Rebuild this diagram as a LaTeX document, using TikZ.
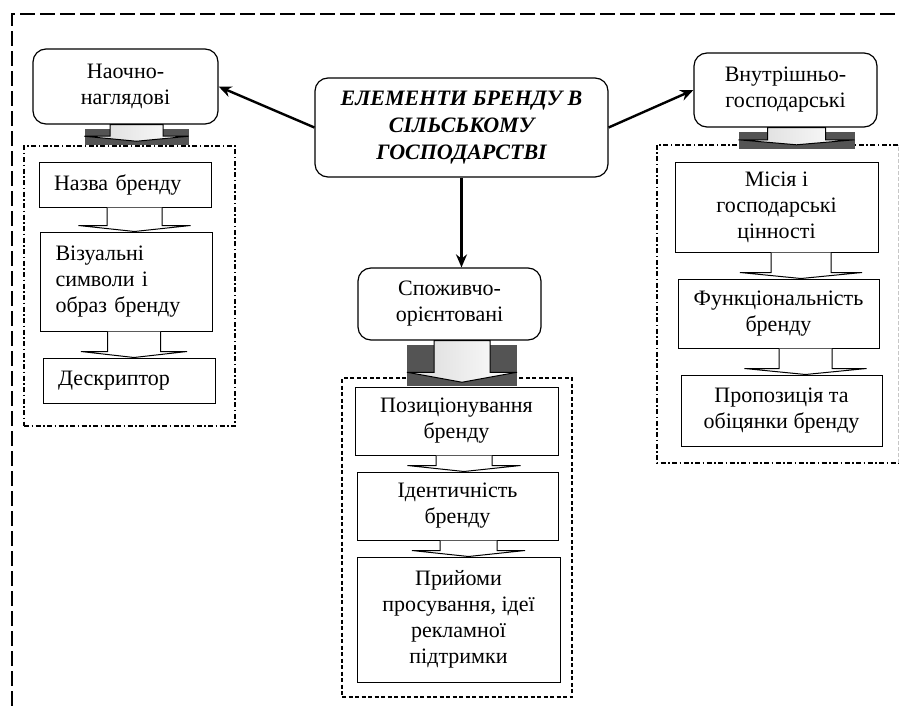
\documentclass[tikz,border=0pt]{standalone}
\usepackage{fontspec}
\setmainfont{Liberation Serif}
\usetikzlibrary{arrows.meta,calc,shadings}

\definecolor{slab}{HTML}{545454}

\tikzset{
  txt/.style={font=\fontsize{22}{26}\selectfont},
  headbox/.style={draw, rounded corners=13pt, line width=1.2pt, align=center, txt, inner sep=2pt},
  itembox/.style={draw, line width=1pt, align=center, txt, inner sep=2pt},
  leftbox/.style={draw, line width=1pt, align=left, txt, inner xsep=15pt, text width=142pt},
  dotframe/.style={line width=1.5pt, dash pattern=on 5pt off 2.5pt on 1.5pt off 2.5pt},
  link/.style={line width=2.4pt, -{Stealth[length=13pt,width=11pt]}}
}

% big gray arrow: from, to, dx, half width, shaft half width, drop, head depth
\newcommand{\bigarrow}[7]{%
  \fill[slab] let \p1=(#1.south), \p2=(#2.north) in
    ({\x1+#3pt-#4pt},{\y1-4pt}) rectangle ({\x1+#3pt+#4pt},{\y2-(#6pt)-4pt});
  \draw[line width=1pt, left color=gray!30, right color=white] let \p1=(#1.south), \p2=(#2.north) in
    ({\x1+#3pt-#5pt},\y1) -- ({\x1+#3pt-#5pt},{\y2-(#6pt)+#7pt}) -- ({\x1+#3pt-#4pt},{\y2-(#6pt)+#7pt})
    -- ({\x1+#3pt},{\y2-(#6pt)}) -- ({\x1+#3pt+#4pt},{\y2-(#6pt)+#7pt}) -- ({\x1+#3pt+#5pt},{\y2-(#6pt)+#7pt})
    -- ({\x1+#3pt+#5pt},\y1) -- cycle;}

% small white arrow: from, to, dx, shaft half width, head half width
\newcommand{\steparrow}[5]{%
  \draw[line width=1pt, fill=white] let \p1=(#1.south), \p2=(#2.north) in
    ({\x1+#3pt-#4pt},\y1) -- ({\x1+#3pt-#4pt},{\y2+6pt}) -- ({\x1+#3pt-#5pt},{\y2+6pt}) -- ({\x1+#3pt},\y2)
    -- ({\x1+#3pt+#5pt},{\y2+6pt}) -- ({\x1+#3pt+#4pt},{\y2+6pt}) -- ({\x1+#3pt+#4pt},\y1);}

\begin{document}
\begin{tikzpicture}[x=1pt, y=-1pt]

\useasboundingbox (0,0) rectangle (899,706);

\draw[line width=2.5pt, dash pattern=on 15pt off 5pt] (12,706) -- (12,14) -- (899,14);

% frames
\node[draw, dotframe, minimum width=211, minimum height=280, inner sep=0pt] (frameL) at (129.5,286) {};
\node[draw, line width=1.5pt, dash pattern=on 4pt off 2.5pt, minimum width=230, minimum height=319, inner sep=0pt] (frameC) at (457,537.5) {};
\node[minimum width=241, minimum height=318, inner sep=0pt] (frameR) at (777.5,304) {};
\draw[dotframe] (frameR.north east) -- (frameR.north west) -- (frameR.south west) -- (frameR.south east);
\draw[gray!45, line width=1pt, dash pattern=on 4pt off 2pt] (frameR.south east) -- (frameR.north east);

% main and group boxes
\node[headbox, minimum width=293, minimum height=99, font=\fontsize{22}{27}\selectfont\bfseries\itshape] (main) at (461.5,127.5) {ЕЛЕМЕНТИ БРЕНДУ В\\СІЛЬСЬКОМУ\\ГОСПОДАРСТВІ};
\node[headbox, minimum width=185, minimum height=75] (nao) at (125.5,86.5) {Наочно-\\наглядові};
\node[headbox, minimum width=183, minimum height=74] (vnu) at (785.5,90) {Внутрішньо-\\господарські};
\node[headbox, minimum width=183, minimum height=72] (spo) at (449.5,304) {Споживчо-\\орієнтовані};

% left column
\node[leftbox, minimum height=45] (nazva) at (125,184.5) {Назва бренду};
\node[leftbox, minimum height=99] (vizual) at (126.5,281.5) {Візуальні\\символи і\\образ бренду};
\node[leftbox, minimum height=45] (deskr) at (129,380.5) {Дескриптор};

% centre column
\node[itembox, minimum width=203, minimum height=68] (pozyc) at (456.5,421) {Позиціонування\\бренду};
\node[itembox, minimum width=201, minimum height=68] (ident) at (457.5,506) {Ідентичність\\бренду};
\node[itembox, minimum width=203, minimum height=125] (pryi) at (458.5,619.5) {Прийоми\\просування, ідеї\\рекламної\\підтримки};

% right column
\node[itembox, minimum width=203, minimum height=90] (misia) at (776.5,207) {Місія і\\господарські\\цінності};
\node[itembox, minimum width=201, minimum height=69] (funk) at (778.5,313.5) {Функціональність\\бренду};
\node[itembox, minimum width=201, minimum height=71] (propoz) at (781.5,410.5) {Пропозиція та\\обіцянки бренду};

\draw[link] (main.west) -- (nao.east);
\draw[link] (main.east) -- (vnu.west);
\draw[link] (main.south) -- (main.south |- spo.north);

\bigarrow{nao}{frameL}{11}{52}{26.5}{-4}{5}
\bigarrow{spo}{frameC}{12.5}{55}{28}{5}{10}
\bigarrow{vnu}{frameR}{11}{58}{29}{0}{5}

\steparrow{nazva}{vizual}{9.5}{27.5}{56}
\steparrow{vizual}{deskr}{7.5}{26.5}{53}
\steparrow{pozyc}{ident}{7.5}{28}{56.5}
\steparrow{ident}{pryi}{11}{28.5}{56.5}
\steparrow{misia}{funk}{24.5}{30}{61}
\steparrow{funk}{propoz}{27}{26.5}{61}

\end{tikzpicture}
\end{document}
